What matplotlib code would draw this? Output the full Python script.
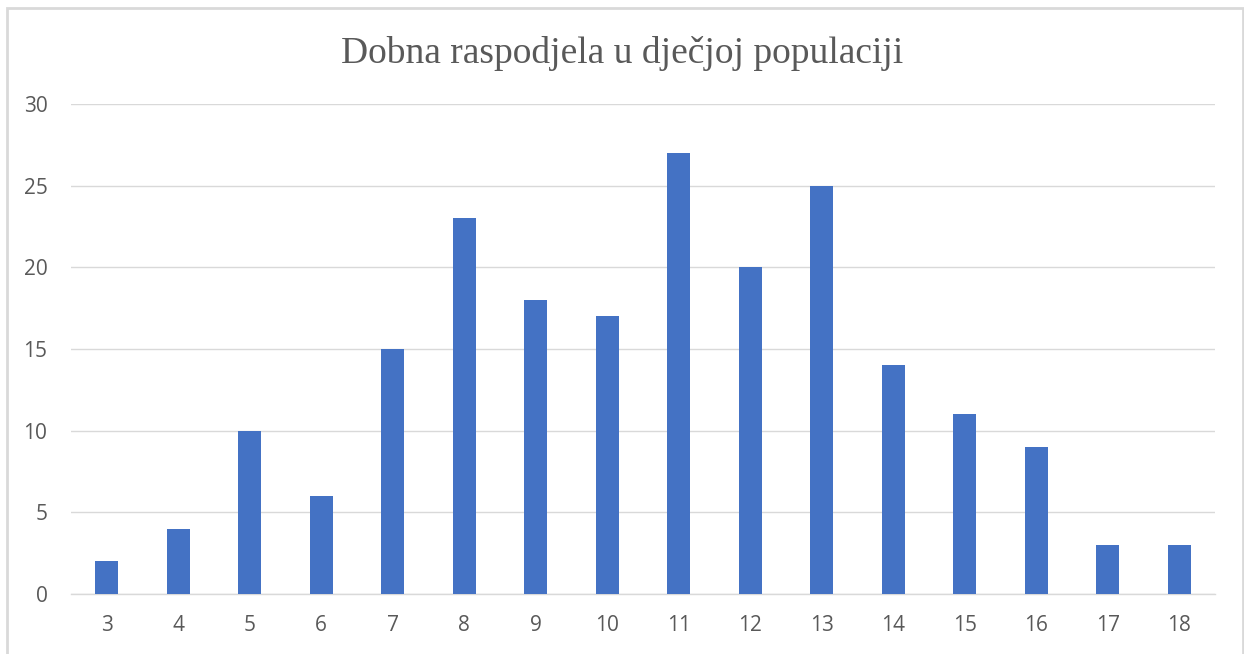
import matplotlib.pyplot as plt
from matplotlib.patches import Rectangle

# dob (godine) i broj djece
dob = [3, 4, 5, 6, 7, 8, 9, 10, 11, 12, 13, 14, 15, 16, 17, 18]
broj = [2, 4, 10, 6, 15, 23, 18, 17, 27, 20, 25, 14, 11, 9, 3, 3]
y_ticks = [0, 5, 10, 15, 20, 25, 30]

fig = plt.figure(figsize=(12.44, 6.54), dpi=100)
ax = fig.add_axes([71/1244, 1 - 594/654, (1215 - 71)/1244, (594 - 104)/654])

pozicije = list(range(len(dob)))
ax.bar(pozicije, broj, width=0.32, color='#4472C4', zorder=3)

ax.set_xlim(-0.5, len(dob) - 0.5)
ax.set_ylim(0, 30)
ax.set_yticks(y_ticks)
ax.set_xticks(pozicije)
ax.set_xticklabels([str(d) for d in dob])

ax.grid(axis='y', color='#d9d9d9', linewidth=1.0, zorder=0)
for s in ['top', 'right', 'left']:
    ax.spines[s].set_visible(False)
ax.spines['bottom'].set_color('#d9d9d9')
ax.spines['bottom'].set_linewidth(1.0)

ax.tick_params(axis='both', length=0, labelsize=15, labelcolor='#595959')
ax.tick_params(axis='y', pad=17)
ax.tick_params(axis='x', pad=15)
for lab in ax.get_xticklabels() + ax.get_yticklabels():
    lab.set_fontfamily('Open Sans')

fig.text(0.5, 1 - 63/654, 'Dobna raspodjela u dječjoj populaciji', ha='center', va='baseline',
         fontsize=27, color='#595959', family='Liberation Serif')

# okvir grafikona (donji rub je odrezan)
okvir = Rectangle((6.5/1244, -0.05), (1243 - 6.5)/1244, 1 - 7.5/654 + 0.05,
                  transform=fig.transFigure, fill=False, edgecolor='#d9d9d9', linewidth=2)
fig.patches.append(okvir)

fig.savefig('out.png', dpi=100)
